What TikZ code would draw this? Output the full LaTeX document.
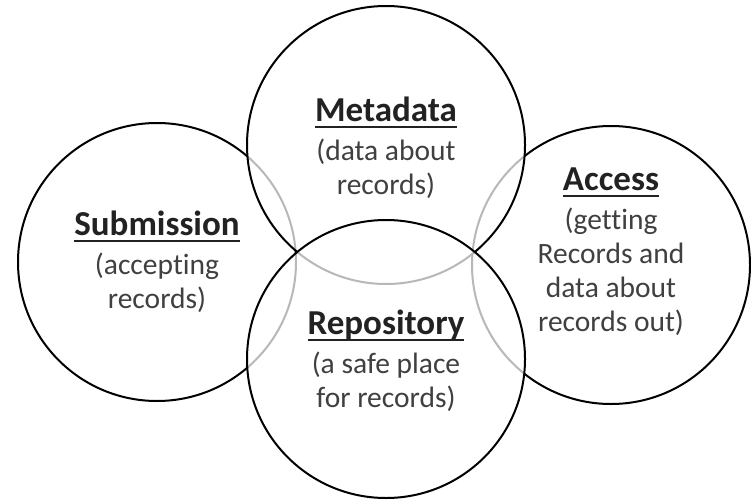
\documentclass[tikz,border=0pt]{standalone}
\usepackage{fontspec}
\setmainfont[Ligatures=NoCommon]{Carlito}
\definecolor{bodygray}{RGB}{64,64,64}
\definecolor{titlegray}{RGB}{34,34,34}
\newsavebox{\titlebox}
\newcommand{\parttitle}[1]{%
  \sbox{\titlebox}{\color{titlegray}\bfseries\fontsize{35}{36}\selectfont #1}%
  \rlap{\color{titlegray}\rule[-6pt]{\wd\titlebox}{1.8pt}}\usebox{\titlebox}}
\tikzset{
  part/.style={circle, draw=black, line width=2pt, fill=white, fill opacity=0.72,
    text opacity=1, minimum size=278pt, inner sep=0pt},
  note/.style={align=center, text=bodygray, font=\fontsize{29.5}{34}\selectfont}
}

\begin{document}
\begin{tikzpicture}[x=1pt,y=1pt]
    \fill[white] (0,0) rectangle (751,499);
    \useasboundingbox (0,0) rectangle (751,499);
    % circles
    \node[part] (sub)  at (157,237) {};
    \node[part] (acc)  at (611,234) {};
    \node[part] (meta) at (386,354) {};
    \node[part] (repo) at (386,140) {};
    % texts
    \node[note] (subtxt)  at (sub) {\parttitle{Submission}\\[5pt](accepting\\records)};
    \node[note] (metatxt) at ([yshift=-3pt]meta.center) {\parttitle{Metadata}\\[5pt](data about\\records)};
    \node[note] (acctxt)  at ([yshift=13pt]acc.center) {\parttitle{Access}\\[5pt](getting\\Records and\\data about\\records out)};
    \node[note] (repotxt) at ([yshift=-2pt]repo.center) {\parttitle{Repository}\\[5pt](a safe place\\for records)};
\end{tikzpicture}
\end{document}
